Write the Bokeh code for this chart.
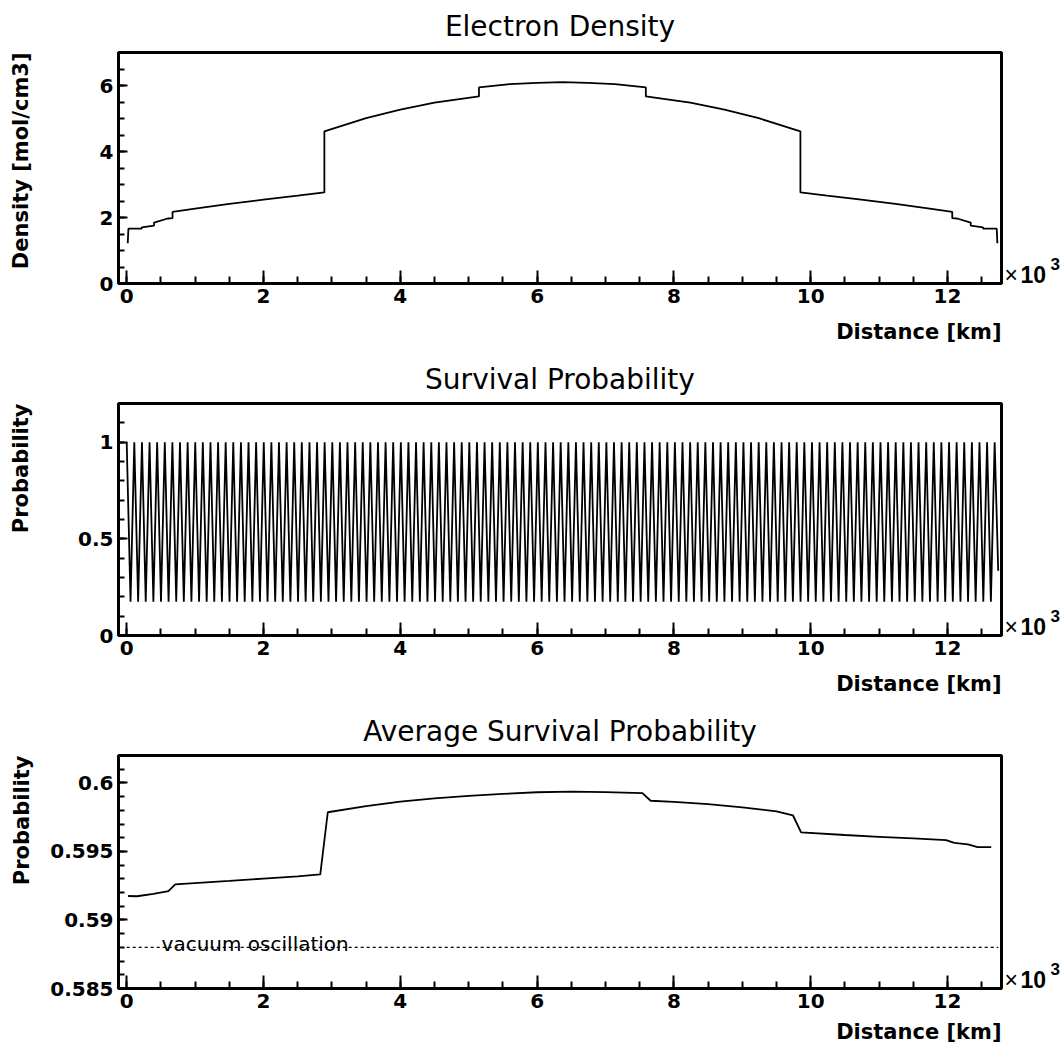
from bokeh.plotting import figure
from bokeh.layouts import column
from bokeh.models import FixedTicker, Label, Range1d, LinearAxis, Title
from bokeh.embed import file_html
from bokeh.resources import INLINE

# ---------------- data (distance in 10^3 km) ----------------
titles = ["Electron Density", "Survival Probability", "Average Survival Probability"]
y_titles = ["Density [mol/cm3]", "Probability", "Probability"]
x_title = "Distance [km]"
multiplier_sign = "\u00d7"
multiplier = "10"
multiplier_exp = "3"

x_ticks = [0, 2, 4, 6, 8, 10, 12]
x_minor = [0.5 * i for i in range(0, 26)]

# electron density along the path through the Earth
dens_x = [0.015, 0.025, 0.22, 0.22, 0.40, 0.40, 0.60, 0.67, 0.67, 1.0, 1.5, 2.0, 2.5,
          2.89, 2.89, 3.5, 4.0, 4.5, 5.15, 5.15, 5.6, 6.0, 6.37, 6.74, 7.14, 7.59, 7.59,
          8.24, 8.74, 9.24, 9.85, 9.85, 10.24, 10.74, 11.24, 11.74, 12.07, 12.07, 12.14,
          12.34, 12.34, 12.52, 12.52, 12.72, 12.73]
dens_y = [1.22, 1.66, 1.665, 1.70, 1.756, 1.845, 1.97, 1.98, 2.17, 2.27, 2.41, 2.54, 2.66,
          2.76, 4.61, 5.01, 5.27, 5.48, 5.67, 5.94, 6.04, 6.08, 6.10, 6.08, 6.04, 5.94, 5.67,
          5.48, 5.27, 5.01, 4.61, 2.76, 2.66, 2.54, 2.41, 2.27, 2.17, 1.98, 1.97,
          1.845, 1.756, 1.70, 1.665, 1.66, 1.22]
dens_ticks = [0, 2, 4, 6]
dens_minor = [0.5 * i for i in range(0, 15)]

# survival probability: positions of maxima and minima of the oscillation
peak_x = [0.000, 0.111, 0.223, 0.334, 0.445, 0.557, 0.668, 0.779, 0.891, 1.002,
          1.113, 1.225, 1.336, 1.447, 1.558, 1.670, 1.781, 1.892, 2.004, 2.115,
          2.226, 2.338, 2.449, 2.560, 2.672, 2.783, 2.894, 3.006, 3.117, 3.228,
          3.340, 3.451, 3.562, 3.674, 3.785, 3.896, 4.008, 4.119, 4.230, 4.341,
          4.453, 4.564, 4.675, 4.787, 4.898, 5.009, 5.121, 5.232, 5.343, 5.455,
          5.566, 5.677, 5.789, 5.900, 6.011, 6.123, 6.234, 6.345, 6.457, 6.568,
          6.679, 6.791, 6.902, 7.013, 7.124, 7.236, 7.347, 7.458, 7.570, 7.681,
          7.792, 7.904, 8.015, 8.126, 8.238, 8.349, 8.460, 8.572, 8.683, 8.794,
          8.906, 9.017, 9.128, 9.240, 9.351, 9.462, 9.574, 9.685, 9.796, 9.907,
          10.019, 10.130, 10.241, 10.353, 10.464, 10.575, 10.687, 10.798, 10.909, 11.021,
          11.132, 11.243, 11.355, 11.466, 11.577, 11.689, 11.800, 11.911, 12.023, 12.134,
          12.245, 12.357, 12.468, 12.579, 12.690]
trough_x = [0.056, 0.167, 0.278, 0.390, 0.501, 0.612, 0.724, 0.835, 0.946, 1.058,
            1.169, 1.280, 1.392, 1.503, 1.614, 1.725, 1.837, 1.948, 2.059, 2.171,
            2.282, 2.393, 2.505, 2.616, 2.727, 2.839, 2.950, 3.061, 3.173, 3.284,
            3.395, 3.507, 3.618, 3.729, 3.841, 3.952, 4.063, 4.175, 4.286, 4.397,
            4.508, 4.620, 4.731, 4.842, 4.954, 5.065, 5.176, 5.288, 5.399, 5.510,
            5.622, 5.733, 5.844, 5.956, 6.067, 6.178, 6.290, 6.401, 6.512, 6.624,
            6.735, 6.846, 6.958, 7.069, 7.180, 7.291, 7.403, 7.514, 7.625, 7.737,
            7.848, 7.959, 8.071, 8.182, 8.293, 8.405, 8.516, 8.627, 8.739, 8.850,
            8.961, 9.073, 9.184, 9.295, 9.407, 9.518, 9.629, 9.740, 9.852, 9.963,
            10.074, 10.186, 10.297, 10.408, 10.520, 10.631, 10.742, 10.854, 10.965, 11.076,
            11.188, 11.299, 11.410, 11.522, 11.633, 11.744, 11.856, 11.967, 12.078, 12.190,
            12.301, 12.412, 12.524, 12.635]
peak_p = 1.0
trough_p = 0.175
end_x, end_p = 12.742, 0.335
prob_ticks = [0, 0.5, 1.0]
prob_labels = ["0", "0.5", "1"]
prob_minor = [0.1 * i for i in range(0, 13)]

# average survival probability
avg_x = [0.02, 0.15, 0.39, 0.61, 0.71, 1.5, 2.0, 2.5, 2.83, 2.94, 3.5, 4.0, 4.5, 5.0, 5.5,
         6.0, 6.5, 7.0, 7.54, 7.66, 8.0, 8.5, 9.0, 9.5, 9.74, 9.86, 10.5, 11.0, 11.5,
         11.98, 12.10, 12.30, 12.44, 12.64]
avg_y = [0.59175, 0.59173, 0.5919, 0.5921, 0.59259, 0.59285, 0.59302, 0.59318, 0.59332,
         0.59786, 0.59830, 0.59863, 0.59887, 0.59905, 0.59920, 0.59932, 0.59936, 0.59933,
         0.59925, 0.59870, 0.59862, 0.59845, 0.59822, 0.59792, 0.59764, 0.59639, 0.59620,
         0.59607, 0.59595, 0.59583, 0.59563, 0.59552, 0.59532, 0.59532]
vacuum_p = 0.588
vacuum_x = [0.0, 12.742]
vacuum_label = "vacuum oscillation"
avg_ticks = [0.585, 0.59, 0.595, 0.6]
avg_labels = ["0.585", "0.59", "0.595", "0.6"]
avg_minor = [0.585 + 0.001 * i for i in range(0, 18)]

# ---------------- styling ----------------
FONT = "DejaVu Sans"
MFONT = "Liberation Sans"
X0, X1 = -0.12, 12.79
W = 1063
LEFT, RIGHT = 118, 62
LINE_W = 1.8
SPACER = "\u00a0"


def bare_axis(ticks=(), **kw):
    return LinearAxis(ticker=FixedTicker(ticks=list(ticks)),
                      axis_line_color=None, major_tick_line_color=None,
                      minor_tick_line_color=None, major_tick_in=0, major_tick_out=0,
                      minor_tick_in=0, minor_tick_out=0, major_label_text_color="black",
                      axis_label_text_color="black", **kw)


def make_fig(height, top, bottom, y0, y1, yt, ym, ylabels, title, title_gap,
             ytitle, ytitle_pad, xtitle_pad):
    p = figure(width=W, height=height, title=None,
               x_range=Range1d(X0, X1), y_range=Range1d(y0, y1),
               output_backend="svg", toolbar_location=None,
               min_border_left=LEFT, min_border_right=RIGHT,
               min_border_top=top, min_border_bottom=bottom)
    p.outline_line_color = "black"
    p.outline_line_width = 3
    p.grid.visible = False
    p.background_fill_color = "white"
    p.border_fill_color = "white"
    frame_h = height - top - bottom
    dy = (y1 - y0) / frame_h

    xa = p.xaxis[0]
    xa.ticker = FixedTicker(ticks=x_ticks, minor_ticks=x_minor)
    xa.axis_line_width = 3
    xa.major_tick_in = 13
    xa.major_tick_out = 0
    xa.minor_tick_in = 7
    xa.minor_tick_out = 0
    xa.major_tick_line_width = 2
    xa.minor_tick_line_width = 2
    xa.major_label_text_font = FONT
    xa.major_label_text_font_style = "bold"
    xa.major_label_text_font_size = "20px"
    xa.major_label_text_color = "black"
    xa.major_label_standoff = 5
    # invisible spacer label that sets the distance of the x title
    xa.axis_label = SPACER
    xa.axis_label_text_font_size = "1px"
    xa.axis_label_standoff = xtitle_pad

    ya = p.yaxis[0]
    ya.ticker = FixedTicker(ticks=yt, minor_ticks=ym)
    ya.axis_line_width = 3
    ya.major_tick_in = 9
    ya.major_tick_out = 0
    ya.minor_tick_in = 6
    ya.minor_tick_out = 0
    ya.major_tick_line_width = 2
    ya.minor_tick_line_width = 2
    ya.major_label_text_font = FONT
    ya.major_label_text_font_style = "bold"
    ya.major_label_text_font_size = "20px"
    ya.major_label_text_color = "black"
    ya.major_label_standoff = 5
    if ylabels is not None:
        ya.major_label_overrides = {t: s for t, s in zip(yt, ylabels)}
    # invisible spacer label that sets the distance of the y title
    ya.axis_label = SPACER
    ya.axis_label_text_font_size = "1px"
    ya.axis_label_standoff = ytitle_pad

    # y title, aligned to the top of the axis
    p.add_layout(Title(text=ytitle, align="right", text_font=FONT,
                       text_font_size="21px", text_font_style="bold",
                       text_color="black", standoff=0), "left")

    # panel title (label of an empty axis above the frame)
    t_ax = bare_axis(axis_label=title, axis_label_standoff=title_gap,
                     axis_label_text_font=FONT, axis_label_text_font_style="normal",
                     axis_label_text_font_size="28px", major_label_standoff=0)
    p.add_layout(t_ax, "above")

    # x title, right aligned under the axis
    p.add_layout(Title(text=x_title, align="right", text_font=FONT,
                       text_font_size="21px", text_font_style="bold",
                       text_color="black", standoff=0), "below")

    # x10^3 multiplier beside the right end of the x axis
    ym1 = y0 + 9 * dy
    ym2 = y0 + 20 * dy
    ax0 = bare_axis(ticks=[ym1], major_label_overrides={ym1: multiplier_sign},
                    major_label_standoff=3, major_label_text_font=MFONT,
                    major_label_text_font_style="normal", major_label_text_font_size="23px")
    ax1 = bare_axis(ticks=[ym1], major_label_overrides={ym1: multiplier},
                    major_label_standoff=0, major_label_text_font=MFONT,
                    major_label_text_font_style="bold", major_label_text_font_size="23px")
    ax2 = bare_axis(ticks=[ym2], major_label_overrides={ym2: multiplier_exp},
                    major_label_standoff=1, major_label_text_font=MFONT,
                    major_label_text_font_style="bold", major_label_text_font_size="17px")
    p.add_layout(ax0, "right")
    p.add_layout(ax1, "right")
    p.add_layout(ax2, "right")
    return p


# panel 1: electron density
p1 = make_fig(355, 52, 72, 0, 7, dens_ticks, dens_minor, None,
              titles[0], 10, y_titles[0], 60, 8)
p1.line(dens_x, dens_y, line_color="black", line_width=LINE_W)

# panel 2: survival probability
osc_x, osc_y = [], []
for i, px in enumerate(peak_x):
    osc_x.append(px)
    osc_y.append(peak_p)
    if i < len(trough_x):
        osc_x.append(trough_x[i])
        osc_y.append(trough_p)
osc_x.append(end_x)
osc_y.append(end_p)
p2 = make_fig(354, 48, 74, 0, 1.2, prob_ticks, prob_minor, prob_labels,
              titles[1], 8, y_titles[1], 38, 8)
p2.line(osc_x, osc_y, line_color="black", line_width=LINE_W)

# panel 3: average survival probability
p3 = make_fig(335, 46, 56, 0.585, 0.602, avg_ticks, avg_minor, avg_labels,
              titles[2], 8, y_titles[2], 10, 3)
p3.line(avg_x, avg_y, line_color="black", line_width=LINE_W)
p3.line(vacuum_x, [vacuum_p, vacuum_p], line_color="black", line_width=1.2, line_dash="3 3")
p3.add_layout(Label(x=0.51, y=vacuum_p, y_offset=3, text=vacuum_label,
                    text_align="left", text_baseline="alphabetic",
                    text_font=FONT, text_font_size="20px", text_color="black"))

layout = column(p1, p2, p3, spacing=0)
open("out.html", "w").write(file_html(layout, INLINE))
